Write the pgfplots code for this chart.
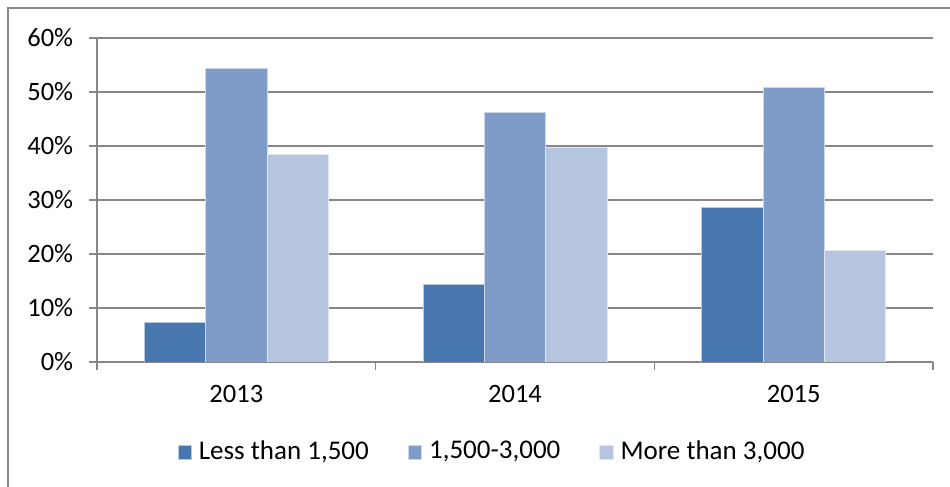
\documentclass[border=0pt]{standalone}
\usepackage{pgfplots}
\pgfplotsset{compat=1.18}
\usepackage{fontspec}
\setmainfont{Carlito}
\definecolor{cA}{HTML}{4877B0}
\definecolor{cB}{HTML}{7F9CC8}
\definecolor{cC}{HTML}{B5C4DF}
\definecolor{gridc}{HTML}{878787}
\begin{document}
\fontsize{26bp}{30bp}\selectfont
\begin{tikzpicture}[x=1bp,y=1bp]
\path[use as bounding box] (0,0) rectangle (950,487);
\draw[gridc, line width=2bp] (8,0) -- (8,479) -- (952,479);
\begin{axis}[
  at={(97bp,125bp)}, anchor=south west,
  scale only axis, width=836bp, height=324bp,
  ybar=0pt, bar width=0.22,
  xmin=-0.5, xmax=2.5, ymin=0, ymax=60,
  xtick={0,1,2}, xticklabels={2013,2014,2015},
  major x tick style={draw=none},
  minor xtick={-0.5,0.5,1.5,2.5},
  minor tick length=8bp,
  ytick={0,10,...,60},
  yticklabel={\pgfmathprintnumber{\tick}\%},
  /pgf/number format/assume math mode=true,
  tick align=outside, major tick length=8bp,
  ymajorgrids, grid style={gridc, line width=1.5bp},
  axis line style={gridc, line width=1.5bp},
  tick style={gridc, line width=1.5bp},
  axis x line*=bottom, axis y line*=left,
  ticklabel style={font=\fontsize{26.5bp}{30bp}\selectfont, text=black},
  yticklabel style={xshift=-7bp},
  xticklabel style={yshift=-6bp},
  legend columns=3,
  legend style={at={(0.4725,-0.278)}, anchor=center, draw=none, fill=none,
    font=\fontsize{27bp}{30bp}\selectfont,
    /tikz/every odd column/.append style={column sep=5bp},
    /tikz/every even column/.append style={column sep=37bp}},
  legend image code/.code={\fill[#1] (0bp,-7bp) rectangle (13.5bp,6.5bp);},
]
\addplot[fill=cA, draw=white!60!cA, line width=0.8bp] coordinates {(0,7.4) (1,14.3) (2,28.6)};
\addplot[fill=cB, draw=white!60!cB, line width=0.8bp] coordinates {(0,54.3) (1,46.2) (2,50.8)};
\addplot[fill=cC, draw=white!60!cC, line width=0.8bp] coordinates {(0,38.5) (1,39.7) (2,20.7)};
\legend{Less than 1{,}500, 1{,}500-3{,}000, More than 3{,}000}
\end{axis}
\end{tikzpicture}
\end{document}
